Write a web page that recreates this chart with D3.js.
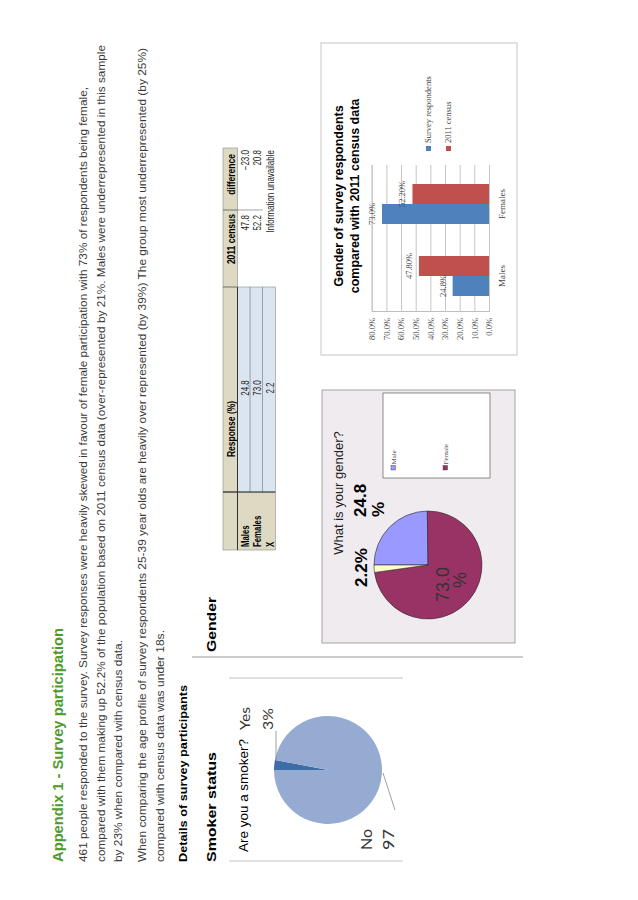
<!DOCTYPE html>
<html>
<head>
<meta charset="utf-8">
<script src="https://cdn.jsdelivr.net/npm/d3@7"></script>
<style>
  html, body { margin: 0; padding: 0; background: #fff; }
  svg text { font-family: "Liberation Sans", Arial, sans-serif; }
</style>
</head>
<body>
<script>
// page text
var titleText = "Appendix 1 - Survey participation";
var introLines = [
  "461 people responded to the survey. Survey responses were heavily skewed in favour of female participation with 73% of respondents being female,",
  "compared with them making up 52.2% of the population based on 2011 census data (over-represented by 21%. Males were underrepresented in this sample",
  "by 23% when compared with census data.",
  "When comparing the age profile of survey respondents 25-39 year olds are heavily over represented (by 39%) The group most underrepresented (by 25%)",
  "compared with census data was under 18s."
];

// smoker pie
var smokerCats = ["Yes", "No"];
var smokerVals = [3, 97];

// gender table
var tableHeaders = ["", "Response (%)", "2011 census", "difference"];
var tableRows = ["Males", "Females", "X"];
var responsePct = [24.8, 73.0, 2.2];
var censusPct = [47.8, 52.2, null];
var diffPct = [-23.0, 20.8, null];

// gender pie
var genderCats = ["Male", "Female", "X"];
var genderVals = [24.8, 73.0, 2.2];

// bar chart
var barCats = ["Males", "Females"];
var barSeries = ["Survey respondents", "2011 census"];
var surveyVals = [24.8, 73.0];
var censusVals = [47.8, 52.2];
var yTicks = [0, 10, 20, 30, 40, 50, 60, 70, 80];


var W = 638, H = 900;
var svg = d3.select("body").append("svg")
    .attr("width", W)
    .attr("height", H);
svg.append("rect").attr("width", W).attr("height", H).attr("fill", "#fff");

// whole page is turned a quarter to the left: local (x,y) -> screen (y, 900-x)
var page = svg.append("g").attr("transform", "translate(0," + H + ") rotate(-90)");

function txt(g, x, y, s, size, opts) {
    opts = opts || {};
    var t = g.append("text")
        .attr("x", x).attr("y", y)
        .attr("font-size", size)
        .attr("fill", opts.fill || "#000")
        .text(s);
    if (opts.weight) t.attr("font-weight", opts.weight);
    if (opts.anchor) t.attr("text-anchor", opts.anchor);
    if (opts.family) t.style("font-family", opts.family);
    if (opts.len) t.attr("textLength", opts.len).attr("lengthAdjust", "spacingAndGlyphs");
    if (opts.narrow) {
        // table text in the picture is squeezed sideways
        var w = t.node().getComputedTextLength();
        t.attr("textLength", w * opts.narrow).attr("lengthAdjust", "spacingAndGlyphs");
    }
    return t;
}

/* header + intro */
txt(page, 38, 63, titleText, 14, {weight: "bold", fill: "#4f9a2c", len: 234});
var lineY = [87, 104.5, 122, 146, 163.5];
var lineLen = [775, 817, 222, 814, 232];
for (var i = 0; i < introLines.length; i++) {
    txt(page, 38, lineY[i], introLines[i], 10.5, {fill: "#3a3a3a", len: lineLen[i]});
}
txt(page, 38, 187, "Details of survey participants", 11.5, {weight: "bold", len: 177});
txt(page, 38, 216, "Smoker status", 13, {weight: "bold", len: 110});
txt(page, 248, 216, "Gender", 13, {weight: "bold", len: 55});

// column divider under "Gender"
page.append("line").attr("x1", 243).attr("x2", 243).attr("y1", 192).attr("y2", 523)
    .attr("stroke", "#9a9a9a").attr("stroke-width", 1);

/* smoker pie */
var smoke = page.append("g");
smoke.append("line").attr("x1", 39).attr("x2", 39).attr("y1", 229).attr("y2", 403)
    .attr("stroke", "#c4c4c4");
smoke.append("line").attr("x1", 222).attr("x2", 222).attr("y1", 229).attr("y2", 403)
    .attr("stroke", "#c4c4c4");

var smokerPie = d3.pie().sort(null).value(function(d) { return d; })(smokerVals);
var smokerArc = d3.arc().innerRadius(0).outerRadius(54);
var smokerColors = d3.scaleOrdinal().domain(smokerCats).range(["#3d6ca6", "#95abd1"]);
var sp = smoke.append("g").attr("transform", "translate(130,328)");
sp.selectAll("path").data(smokerPie).enter().append("path")
    .attr("d", smokerArc)
    .attr("fill", function(d, i) { return smokerColors(smokerCats[i]); });

txt(smoke, 48, 248, "Are you a smoker?", 12, {len: 113});
txt(smoke, 170, 250, smokerCats[0], 14, {family: "Lato, 'Open Sans', sans-serif", fill: "#333", len: 23});
txt(smoke, 170, 273, smokerVals[0] + "%", 14, {family: "Lato, 'Open Sans', sans-serif", fill: "#333", len: 22});
smoke.append("line").attr("x1", 169).attr("x2", 139).attr("y1", 276).attr("y2", 276)
    .attr("stroke", "#777").attr("stroke-width", 0.7);
txt(smoke, 50, 372, smokerCats[1], 15, {family: "Lato, 'Open Sans', sans-serif", fill: "#333", len: 21});
txt(smoke, 50, 394, String(smokerVals[1]), 15, {family: "Lato, 'Open Sans', sans-serif", fill: "#333", len: 21});
smoke.append("line").attr("x1", 127).attr("x2", 90).attr("y1", 383).attr("y2", 395)
    .attr("stroke", "#777").attr("stroke-width", 0.7);

/* gender table */
var tbl = page.append("g");
var colX = [350, 408, 613, 690, 752];
var headTop = 223, headBot = 237.5, rowH = 12.6;
tbl.append("rect").attr("x", colX[0]).attr("y", headTop).attr("width", colX[4] - colX[0]).attr("height", headBot - headTop)
    .attr("fill", "#ddd9c3").attr("stroke", "#8a8a8a").attr("stroke-width", 0.6);
tbl.append("rect").attr("x", colX[0]).attr("y", headBot).attr("width", colX[1] - colX[0]).attr("height", rowH * 3)
    .attr("fill", "#ddd9c3").attr("stroke", "#8a8a8a").attr("stroke-width", 0.6);
tbl.selectAll("rect.resp").data(tableRows).enter().append("rect")
    .attr("class", "resp")
    .attr("x", colX[1]).attr("y", function(d, i) { return headBot + i * rowH; })
    .attr("width", colX[2] - colX[1]).attr("height", rowH)
    .attr("fill", "#dbe5f1").attr("stroke", "#8a8a8a").attr("stroke-width", 0.6);
for (var c = 1; c < 4; c++) {
    tbl.append("line").attr("x1", colX[c]).attr("x2", colX[c]).attr("y1", headTop).attr("y2", headBot)
        .attr("stroke", "#555").attr("stroke-width", 0.8);
}
tbl.append("line").attr("x1", colX[0]).attr("x2", colX[2]).attr("y1", headBot).attr("y2", headBot)
    .attr("stroke", "#333").attr("stroke-width", 1);
tbl.append("line").attr("x1", colX[1]).attr("x2", colX[1]).attr("y1", headTop).attr("y2", headBot + rowH * 3)
    .attr("stroke", "#333").attr("stroke-width", 1);
tbl.append("line").attr("x1", colX[3]).attr("x2", colX[3]).attr("y1", headBot).attr("y2", headBot + rowH * 2)
    .attr("stroke", "#666").attr("stroke-width", 0.6);

txt(tbl, 471, 235, tableHeaders[1], 10, {weight: "bold", anchor: "middle", narrow: 0.85});
txt(tbl, 686, 235, tableHeaders[2], 10, {weight: "bold", anchor: "end", narrow: 0.85});
txt(tbl, 746, 235, tableHeaders[3], 10, {weight: "bold", anchor: "end", narrow: 0.85});
var f1 = d3.format(".1f");
tableRows.forEach(function(r, i) {
    var by = headBot + (i + 1) * rowH - 1.5;
    txt(tbl, 353, by, r, 10, {weight: "bold", narrow: 0.78});
    txt(tbl, 512, by, f1(responsePct[i]), 10, {anchor: "middle", fill: "#222", narrow: 0.8});
    if (censusPct[i] != null) {
        txt(tbl, 685, by, f1(censusPct[i]), 10, {anchor: "end", fill: "#222", narrow: 0.8});
        txt(tbl, 750, by, f1(diffPct[i]), 10, {anchor: "end", fill: "#222", narrow: 0.8});
    } else {
        txt(tbl, 750, by, "Information unavailable", 10, {anchor: "end", fill: "#222", narrow: 0.8});
    }
});

/* gender pie */
var gp = page.append("g");
gp.append("rect").attr("x", 257).attr("y", 322).attr("width", 253).attr("height", 193)
    .attr("fill", "#efebef").attr("stroke", "#a3a3a3").attr("stroke-width", 1);
txt(gp, 407, 343, "What is your gender?", 13, {anchor: "middle", fill: "#222"});

var genderPie = d3.pie().sort(null).value(function(d) { return d; })(genderVals);
var genderArc = d3.arc().innerRadius(0).outerRadius(54);
var genderColors = d3.scaleOrdinal().domain(genderCats).range(["#9999ff", "#993366", "#ffffcc"]);
var gpc = gp.append("g").attr("transform", "translate(335,428)");
gpc.selectAll("path").data(genderPie).enter().append("path")
    .attr("d", genderArc)
    .attr("fill", function(d, i) { return genderColors(genderCats[i]); })
    .attr("stroke", "#2a2a2a").attr("stroke-width", 0.6);

txt(gp, 383, 366, f1(genderVals[0]), 17, {weight: "bold"});
txt(gp, 383, 384, "%", 17, {weight: "bold"});
txt(gp, 313, 367, f1(genderVals[2]) + "%", 17, {weight: "bold"});
txt(gp, 298, 449, f1(genderVals[1]), 18, {fill: "#333"});
txt(gp, 312, 466, "%", 18, {fill: "#333"});

gp.append("rect").attr("x", 422).attr("y", 383).attr("width", 85).attr("height", 107)
    .attr("fill", "#fff").attr("stroke", "#444").attr("stroke-width", 0.6);
var legY = [395, 447];
genderCats.slice(0, 2).forEach(function(g, i) {
    gp.append("rect").attr("x", 430).attr("y", legY[i] - 4).attr("width", 4.5).attr("height", 4.5)
        .attr("fill", genderColors(g)).attr("stroke", "#333").attr("stroke-width", 0.4);
    txt(gp, 435.5, legY[i] + 0.5, g, 7, {family: "'Liberation Serif', serif", fill: "#555"});
});

/* bar chart */
var bc = page.append("g");
bc.append("rect").attr("x", 545).attr("y", 321).attr("width", 312).attr("height", 196)
    .attr("fill", "#fff").attr("stroke", "#cfcfcf").attr("stroke-width", 1.2);
txt(bc, 704, 343, "Gender of survey respondents", 12.5, {weight: "bold", anchor: "middle"});
txt(bc, 704, 358.5, "compared with 2011 census data", 12.5, {weight: "bold", anchor: "middle"});

var x0 = d3.scaleBand().domain(barCats).range([588, 732]).paddingInner(0.444).paddingOuter(0.222);
var x1 = d3.scaleBand().domain(barSeries).range([0, x0.bandwidth()]);
var y = d3.scaleLinear().domain([0, 80]).range([489, 371.7]);
var serColors = d3.scaleOrdinal().domain(barSeries).range(["#4f81bd", "#c0504d"]);
var serif = "'Liberation Serif', 'DejaVu Serif', serif";

var grid = bc.append("g").attr("transform", "translate(588,0)")
    .call(d3.axisLeft(y).tickValues(yTicks).tickSize(-147).tickPadding(6)
        .tickFormat(function(d) { return d3.format(".1f")(d) + "%"; }));
grid.select(".domain").attr("stroke", "#bdbdbd");
grid.selectAll(".tick line").attr("stroke", "#c6c6c6");
grid.selectAll(".tick text").attr("font-size", 8.5).attr("fill", "#444")
    .style("font-family", serif);

var barData = barCats.map(function(c, i) {
    return {cat: c, vals: [{s: barSeries[0], v: surveyVals[i]}, {s: barSeries[1], v: censusVals[i]}]};
});
var grp = bc.selectAll("g.cat").data(barData).enter().append("g")
    .attr("class", "cat")
    .attr("transform", function(d) { return "translate(" + x0(d.cat) + ",0)"; });
grp.selectAll("rect").data(function(d) { return d.vals; }).enter().append("rect")
    .attr("x", function(d) { return x1(d.s); })
    .attr("y", function(d) { return y(d.v); })
    .attr("width", x1.bandwidth())
    .attr("height", function(d) { return y(0) - y(d.v); })
    .attr("fill", function(d) { return serColors(d.s); });
grp.selectAll("text.val").data(function(d) { return d.vals; }).enter().append("text")
    .attr("class", "val")
    .attr("x", function(d) { return x1(d.s) + x1.bandwidth() / 2; })
    .attr("y", function(d) { return y(d.v) - 7; })
    .attr("text-anchor", "middle")
    .attr("font-size", 8.5).attr("fill", "#444")
    .style("font-family", serif)
    .text(function(d, i) { return i === 0 ? d3.format(".1f")(d.v) + "%" : d3.format(".2f")(d.v) + "%"; });

barCats.forEach(function(c) {
    txt(bc, x0(c) + x0.bandwidth() / 2, 505, c, 9, {anchor: "middle", family: serif, fill: "#444"});
});

var legYs = [431, 451];
barSeries.forEach(function(s, i) {
    bc.append("rect").attr("x", 749).attr("y", legYs[i] - 5).attr("width", 5).attr("height", 5)
        .attr("fill", serColors(s));
    txt(bc, 757, legYs[i], s, 8.5, {family: serif, fill: "#444"});
});
</script>
</body>
</html>
